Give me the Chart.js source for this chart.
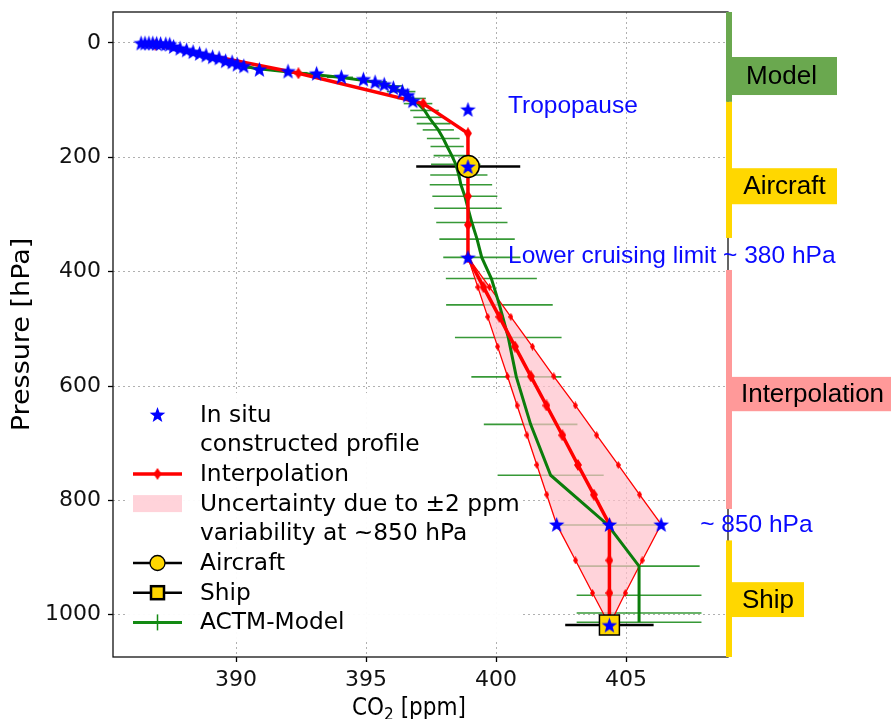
<!DOCTYPE html>
<html>
<head>
<meta charset="utf-8">
<script src="https://cdn.jsdelivr.net/npm/chart.js@4.4.0/dist/chart.umd.min.js"></script>
<style>
  html, body { margin: 0; padding: 0; background: #fff; }
</style>
</head>
<body>
<canvas id="profile" width="891" height="719"></canvas>
<script>
// ---- data (CO2 in ppm, pressure in hPa) ----
const insituCO2 = [386.35, 386.5, 386.65, 386.8, 386.95, 387.1, 387.3, 387.45, 387.6, 387.85, 388.1, 388.35, 388.6, 388.85, 389.1, 389.35, 389.6, 389.85, 390.05, 390.3, 390.9, 392.0, 393.1, 394.05, 394.9, 395.35, 395.7, 396.05, 396.4, 396.6, 396.8, 398.92, 398.92, 398.92, 402.33, 404.36, 406.35, 404.36];
const insituP   = [0, 0, 0, 0, 0.5, 1, 1.5, 2, 6, 9, 12, 15, 18, 21, 24, 26, 31, 33, 37, 40, 46, 49, 53, 59, 63, 68, 72, 78, 84, 91, 101, 116, 216, 375, 842, 842, 842, 1018];

const interpCO2 = [386.9, 392.4, 397.2, 398.92, 398.92, 398.92, 398.92, 398.92, 399.52, 400.13, 400.73, 401.34, 401.94, 402.55, 403.15, 403.76, 404.36, 404.36, 404.36, 404.36];
const interpP   = [3, 53, 106, 158, 216, 268, 318, 375, 427, 479, 531, 583, 634, 686, 738, 790, 842, 905, 962, 1018];

const lowCO2  = [398.92, 399.30, 399.68, 400.06, 400.44, 400.81, 401.19, 401.57, 401.95, 402.33, 403.06, 403.71, 404.36];
const highCO2 = [398.92, 399.75, 400.57, 401.40, 402.22, 403.05, 403.87, 404.70, 405.52, 406.35, 405.62, 404.97, 404.36];
const boundP  = [375, 427, 479, 531, 583, 634, 686, 738, 790, 842, 905, 962, 1018];

const modelP   = [0, 5, 12, 20, 28, 36, 44, 52, 60, 68, 75, 85, 97, 106, 118, 130, 141, 152, 167, 181, 197, 212, 231, 248, 268, 289, 314, 343, 375, 412, 458, 515, 584, 667, 756, 843, 915, 966, 997, 1013];
const modelCO2 = [386.6, 387.1, 387.9, 388.6, 389.2, 389.9, 390.7, 392.3, 394.0, 395.3, 395.9, 396.35, 396.75, 397.0, 397.25, 397.42, 397.6, 397.78, 397.97, 398.12, 398.3, 398.45, 398.57, 398.65, 398.8, 398.92, 399.07, 399.27, 399.45, 399.82, 400.13, 400.47, 400.78, 401.33, 402.1, 404.3, 405.5, 405.5, 405.5, 405.5];
const modelErr = [0.2, 0.2, 0.25, 0.3, 0.3, 0.35, 0.4, 0.45, 0.5, 0.5, 0.5, 0.55, 0.55, 0.55, 0.55, 0.6, 0.65, 0.6, 0.63, 0.64, 0.7, 0.95, 1.1, 1.2, 1.25, 1.3, 1.37, 1.45, 1.48, 1.75, 2.05, 2.05, 1.73, 1.8, 2.04, 2.0, 2.33, 2.4, 2.4, 2.4];

const aircraftCO2 = [398.93], aircraftP = [216], aircraftErr = [2.0];
const shipCO2 = [404.36], shipP = [1018], shipErr = [1.7];

const xTicks = [390, 395, 400, 405];
const yTicks = [0, 200, 400, 600, 800, 1000];

// ---- styles ----
const DV = "'DejaVu Sans', sans-serif";
const AR = "'Liberation Sans', Arial, sans-serif";
const PINK_FILL = 'rgba(255,192,203,0.7)';
const GOLD = '#ffd700';

const pts = (xs, ys) => xs.map((v, i) => ({ x: v, y: ys[i] }));

function starImg(size, color) {
  const c = document.createElement('canvas');
  c.width = c.height = size;
  const g = c.getContext('2d');
  const r = size / 2, ri = r * 0.4;
  g.beginPath();
  for (let i = 0; i < 10; i++) {
    const rad = i % 2 ? ri : r - 0.3;
    const a = -Math.PI / 2 + i * Math.PI / 5;
    g.lineTo(r + rad * Math.cos(a), r + 0.8 + rad * Math.sin(a));
  }
  g.closePath();
  g.fillStyle = color;
  g.fill();
  return c;
}

function diamondImg(w, h, color) {
  const c = document.createElement('canvas');
  c.width = w; c.height = h;
  const g = c.getContext('2d');
  g.beginPath();
  g.moveTo(w / 2, 0); g.lineTo(w, h / 2); g.lineTo(w / 2, h); g.lineTo(0, h / 2);
  g.closePath();
  g.fillStyle = color;
  g.fill();
  return c;
}

const STAR = starImg(17, '#0000ff');
const DIA_BIG = diamondImg(8, 12, '#ff0000');
const DIA_SMALL = diamondImg(5, 8, '#ff0000');

// ---- plugin: legend box + error bars, under the data ----
const underLayer = {
  id: 'underLayer',
  beforeDatasetsDraw(chart) {
    const { ctx, chartArea: a, scales: { x, y } } = chart;
    ctx.save();
    ctx.fillStyle = 'rgba(255,255,255,0.95)';
    ctx.beginPath();
    ctx.roundRect(126, 393, 396, 249, 4);
    ctx.fill();

    ctx.beginPath();
    ctx.rect(a.left, a.top, a.right - a.left, a.bottom - a.top);
    ctx.clip();

    ctx.strokeStyle = 'rgba(20,135,20,0.85)';
    ctx.lineWidth = 1.6;
    modelCO2.forEach((c, i) => {
      const py = y.getPixelForValue(modelP[i]);
      ctx.beginPath();
      ctx.moveTo(x.getPixelForValue(c - modelErr[i]), py);
      ctx.lineTo(x.getPixelForValue(c + modelErr[i]), py);
      ctx.stroke();
    });

    ctx.strokeStyle = '#000';
    ctx.lineWidth = 2.5;
    const blackBar = (cs, ps, es) => cs.forEach((c, i) => {
      const py = y.getPixelForValue(ps[i]);
      ctx.beginPath();
      ctx.moveTo(x.getPixelForValue(c - es[i]), py);
      ctx.lineTo(x.getPixelForValue(c + es[i]), py);
      ctx.stroke();
    });
    blackBar(aircraftCO2, aircraftP, aircraftErr);
    blackBar(shipCO2, shipP, shipErr);
    ctx.restore();
  }
};

// ---- plugin: frame, side bars, notes, legend, axis titles ----
const overLayer = {
  id: 'overLayer',
  afterDatasetsDraw(chart) {
    const { ctx, chartArea: a, scales: { x, y } } = chart;
    ctx.save();
    // frame
    ctx.strokeStyle = '#111';
    ctx.lineWidth = 1.3;
    ctx.strokeRect(a.left, a.top, a.right - a.left, a.bottom - a.top);

    // blue notes
    ctx.fillStyle = '#0a0aff';
    ctx.font = '24.5px ' + AR;
    ctx.textBaseline = 'middle';
    ctx.textAlign = 'left';
    ctx.fillText('Tropopause', x.getPixelForValue(400.46), y.getPixelForValue(110));
    ctx.fillText('Lower cruising limit ~ 380 hPa', x.getPixelForValue(400.46), y.getPixelForValue(373));
    ctx.fillText('~ 850 hPa', x.getPixelForValue(407.85), y.getPixelForValue(843));

    // right-hand source bars
    const segs = [
      [-60, 103, '#6aa84f'],
      [103, 341, GOLD],
      [397, 815, '#ff9999'],
      [870, 1080, GOLD]
    ];
    segs.forEach(([p0, p1, col]) => {
      const y0 = Math.max(y.getPixelForValue(p0), a.top);
      const y1 = Math.min(y.getPixelForValue(p1), a.bottom);
      ctx.fillStyle = col;
      ctx.fillRect(726, y0, 6, y1 - y0);
    });
    const boxes = [
      ['Model', 24.5, 91, 726, 837, '#6aa84f'],
      ['Aircraft', 219, 282, 732, 837, GOLD],
      ['Interpolation', 584, 644, 732, 895, '#ff9999'],
      ['Ship', 943, 1004, 732, 804, GOLD]
    ];
    ctx.font = '26px ' + AR;
    ctx.textAlign = 'center';
    boxes.forEach(([txt, p0, p1, x0, x1, col]) => {
      const y0 = y.getPixelForValue(p0), y1 = y.getPixelForValue(p1);
      ctx.fillStyle = col;
      ctx.fillRect(x0, y0, x1 - x0, y1 - y0);
      ctx.fillStyle = '#000';
      ctx.fillText(txt, (x0 + Math.min(x1, 891)) / 2 + (txt === 'Interpolation' ? 1 : 0), (y0 + y1) / 2 + 1);
    });
    ctx.restore();
  },
  afterDraw(chart) {
    const { ctx } = chart;
    ctx.save();
    // legend
    const hx0 = 133, hx1 = 182, hc = 157.5, tx = 200;
    const rows = ['In situ', 'constructed profile', 'Interpolation', 'Uncertainty due to \u00b12 ppm',
                  'variability at ~850 hPa', 'Aircraft', 'Ship', 'ACTM-Model'];
    const ry = i => 414.5 + i * 29.7;
    ctx.font = '23.3px ' + DV;
    ctx.fillStyle = '#000';
    ctx.textAlign = 'left';
    ctx.textBaseline = 'middle';
    rows.forEach((t, i) => ctx.fillText(t, tx, ry(i) + 1));

    ctx.drawImage(STAR, hc - 8.5, ry(0) - 8.5);

    const hline = (yy, col, w) => {
      ctx.strokeStyle = col; ctx.lineWidth = w;
      ctx.beginPath(); ctx.moveTo(hx0, yy); ctx.lineTo(hx1, yy); ctx.stroke();
    };
    hline(ry(2), '#ff0000', 3.5);
    ctx.drawImage(DIA_BIG, hc - 4, ry(2) - 6);

    ctx.fillStyle = PINK_FILL;
    ctx.fillRect(hx0, ry(3) - 8.5, hx1 - hx0, 17);

    hline(ry(5), '#000', 2.5);
    ctx.fillStyle = GOLD; ctx.strokeStyle = '#000'; ctx.lineWidth = 1.3;
    ctx.beginPath(); ctx.arc(hc, ry(5), 7.5, 0, Math.PI * 2); ctx.fill(); ctx.stroke();

    hline(ry(6), '#000', 2.5);
    ctx.fillStyle = GOLD;
    ctx.fillRect(hc - 6.5, ry(6) - 6.5, 13, 13);
    ctx.strokeRect(hc - 6.5, ry(6) - 6.5, 13, 13);

    hline(ry(7), '#138a13', 3);
    ctx.strokeStyle = '#138a13'; ctx.lineWidth = 1.5;
    ctx.beginPath(); ctx.moveTo(hc, ry(7) - 8); ctx.lineTo(hc, ry(7) + 8); ctx.stroke();

    // axis titles
    ctx.fillStyle = '#000';
    ctx.font = '27px ' + DV;
    ctx.save();
    ctx.translate(23, 334.5);
    ctx.rotate(-Math.PI / 2);
    ctx.scale(1, 0.9);
    ctx.textAlign = 'center';
    ctx.textBaseline = 'middle';
    ctx.fillText('Pressure [hPa]', 0, 0);
    ctx.restore();

    ctx.save();
    ctx.translate(352, 715);
    ctx.scale(0.9, 1);
    ctx.textAlign = 'left';
    ctx.textBaseline = 'alphabetic';
    let cx = 0;
    ctx.font = '24px ' + DV;
    ctx.fillText('CO', cx, 0); cx += ctx.measureText('CO').width;
    ctx.font = '17px ' + DV;
    ctx.fillText('2', cx, 5); cx += ctx.measureText('2').width;
    ctx.font = '24px ' + DV;
    ctx.fillText(' [ppm]', cx, 0);
    ctx.restore();
    ctx.restore();
  }
};

const gridCommon = {
  color: '#b0b0b0',
  lineWidth: 1,
  drawTicks: true,
  tickLength: 5,
  tickColor: '#000',
  tickWidth: 1.3
};

new Chart(document.getElementById('profile'), {
  type: 'scatter',
  data: {
    datasets: [
      {
        label: 'Uncertainty',
        data: pts(lowCO2.concat(highCO2.slice().reverse()), boundP.concat(boundP.slice().reverse())),
        showLine: true,
        fill: 'shape',
        backgroundColor: PINK_FILL,
        borderWidth: 0,
        pointRadius: 0,
        order: 10
      },
      {
        label: 'low',
        data: pts(lowCO2, boundP),
        showLine: true,
        borderColor: '#ff0000',
        borderWidth: 1.3,
        pointStyle: DIA_SMALL,
        pointRadius: 3,
        order: 8
      },
      {
        label: 'high',
        data: pts(highCO2, boundP),
        showLine: true,
        borderColor: '#ff0000',
        borderWidth: 1.3,
        pointStyle: DIA_SMALL,
        pointRadius: 3,
        order: 8
      },
      {
        label: 'ACTM-Model',
        data: pts(modelCO2, modelP),
        showLine: true,
        borderColor: '#0b7d0b',
        borderWidth: 3,
        pointRadius: 0,
        order: 6
      },
      {
        label: 'Interpolation',
        data: pts(interpCO2, interpP),
        showLine: true,
        borderColor: '#ff0000',
        borderWidth: 3.5,
        pointStyle: DIA_BIG,
        pointRadius: 5,
        order: 4
      },
      {
        label: 'Aircraft',
        data: pts(aircraftCO2, aircraftP),
        pointStyle: 'circle',
        pointRadius: 11,
        backgroundColor: GOLD,
        borderColor: '#000',
        borderWidth: 1.5,
        order: 2
      },
      {
        label: 'Ship',
        data: pts(shipCO2, shipP),
        pointStyle: 'rect',
        pointRadius: 14.1,
        backgroundColor: GOLD,
        borderColor: '#000',
        borderWidth: 1.5,
        order: 2
      },
      {
        label: 'In situ',
        data: pts(insituCO2, insituP),
        pointStyle: STAR,
        pointRadius: 8,
        order: 0
      }
    ]
  },
  options: {
    responsive: false,
    animation: false,
    events: [],
    layout: { autoPadding: false, padding: { top: 12, right: 163, bottom: 0, left: 0 } },
    plugins: {
      legend: { display: false },
      tooltip: { enabled: false }
    },
    scales: {
      x: {
        type: 'linear',
        min: 385.27,
        max: 408.92,
        afterBuildTicks: s => { s.ticks = xTicks.map(v => ({ value: v })); },
        afterFit: s => { s.height = 62; s.paddingLeft = 0; s.paddingRight = 0; },
        grid: gridCommon,
        border: { display: false, dash: [2, 3] },
        ticks: { font: { family: DV, size: 22 }, color: '#111', padding: 5, maxRotation: 0, callback: v => String(v) }
      },
      y: {
        type: 'linear',
        reverse: true,
        min: -54.2,
        max: 1073.9,
        afterBuildTicks: s => { s.ticks = yTicks.map(v => ({ value: v })); },
        afterFit: s => { s.width = 113; s.paddingTop = 0; s.paddingBottom = 0; },
        grid: gridCommon,
        border: { display: false, dash: [2, 3] },
        ticks: { font: { family: DV, size: 22 }, color: '#111', padding: 7, callback: v => String(v) }
      }
    }
  },
  plugins: [underLayer, overLayer]
});
</script>
</body>
</html>
